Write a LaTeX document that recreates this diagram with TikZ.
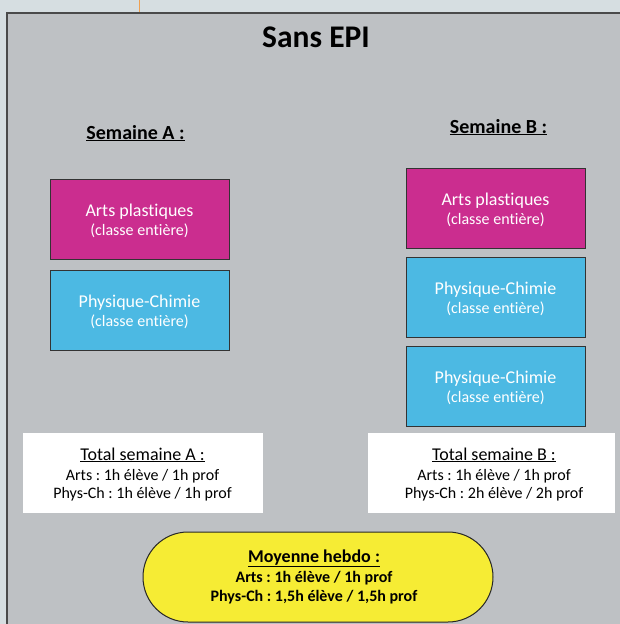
\documentclass[tikz,border=0pt]{standalone}
\usepackage{fontspec}
\setmainfont{Carlito}[Ligatures=CommonOff]
\frenchspacing
\definecolor{outerbg}{HTML}{D6DEE1}
\definecolor{panelbg}{HTML}{BEC1C4}
\definecolor{panelborder}{HTML}{4A4A4A}
\definecolor{magentabox}{HTML}{CB2D8F}
\definecolor{cyanbox}{HTML}{4CB9E3}
\definecolor{yellowbox}{HTML}{F6EC34}
\definecolor{orangeline}{HTML}{F0A050}
\tikzset{
  course/.style={draw=black!80, line width=0.8pt, minimum width=179pt, minimum height=80pt, inner sep=0pt},
  arts/.style={course, fill=magentabox},
  phys/.style={course, fill=cyanbox},
  bigline/.style={anchor=base, inner sep=0pt, text=white, font=\fontsize{18}{21}\selectfont},
  smallline/.style={anchor=base, inner sep=0pt, text=white, font=\fontsize{16}{19}\selectfont},
  total/.style={fill=white, minimum height=80pt, inner sep=0pt},
  ttitle/.style={anchor=base, inner sep=0pt, font=\fontsize{18}{21}\selectfont},
  tline/.style={anchor=base, inner sep=0pt, font=\fontsize{16}{19}\selectfont},
  heading/.style={anchor=base, inner sep=0pt, font=\bfseries\fontsize{20}{24}\selectfont},
  avg/.style={draw=black!85, line width=1pt, fill=yellowbox, minimum width=350pt, minimum height=90pt,
    rounded corners=45pt, inner sep=0pt},
  atitle/.style={anchor=base, inner sep=0pt, font=\bfseries\fontsize{18}{21}\selectfont},
  aline/.style={anchor=base, inner sep=0pt, font=\bfseries\fontsize{16}{19}\selectfont}
}
\begin{document}
\begin{tikzpicture}[x=1pt,y=-1pt]
\fill[outerbg] (0,0) rectangle (620,624);
\useasboundingbox (0,0) rectangle (620,624);
\draw[orangeline, line width=0.8pt] (139,0) -- (139,13);
\fill[panelbg] (7,13) rectangle (620,624);
\draw[panelborder, line width=1.5pt] (7,624) -- (7,13) -- (620,13);

\node[anchor=base, inner sep=0pt, font=\bfseries\fontsize{31.5}{34}\selectfont] (title) at (316,47) {Sans EPI};

\node[heading] (semA) at (135.5,139) {\underline{Semaine A :}};
\node[heading] (semB) at (498.5,133) {\underline{Semaine B :}};

% Semaine A
\node[arts] (a1) at (139.5,219) {};
\node[bigline] (a1t) at (139.5,216.5) {Arts plastiques};
\node[smallline] (a1s) at (139.5,235) {(classe entière)};
\node[phys] (a2) at (139.5,310) {};
\node[bigline] (a2t) at (139.5,307.5) {Physique-Chimie};
\node[smallline] (a2s) at (139.5,326) {(classe entière)};

% Semaine B
\node[arts] (b1) at (495.5,208) {};
\node[bigline] (b1t) at (495.5,205.5) {Arts plastiques};
\node[smallline] (b1s) at (495.5,224) {(classe entière)};
\node[phys] (b2) at (495.5,297) {};
\node[bigline] (b2t) at (495.5,294.5) {Physique-Chimie};
\node[smallline] (b2s) at (495.5,313) {(classe entière)};
\node[phys] (b3) at (495.5,386) {};
\node[bigline] (b3t) at (495.5,383.5) {Physique-Chimie};
\node[smallline] (b3s) at (495.5,402) {(classe entière)};

% Totals
\node[total, minimum width=240pt] (ta) at (143,473) {};
\node[ttitle] (tat) at (142.5,460) {\underline{Total semaine A :}};
\node[tline] (ta1) at (142.5,480) {Arts : 1h élève / 1h prof};
\node[tline] (ta2) at (142.5,498.5) {Phys-Ch : 1h élève / 1h prof};

\node[total, minimum width=247pt] (tb) at (491.5,473) {};
\node[ttitle] (tbt) at (494,460) {\underline{Total semaine B :}};
\node[tline] (tb1) at (494,480) {Arts : 1h élève / 1h prof};
\node[tline] (tb2) at (494,498.5) {Phys-Ch : 2h élève / 2h prof};

% Weekly average
\node[avg] (moy) at (318,577) {};
\node[atitle] (moyt) at (314,562) {\underline{Moyenne hebdo :}};
\node[aline] (moy1) at (314,582) {Arts : 1h élève / 1h prof};
\node[aline] (moy2) at (314,601) {Phys-Ch : 1,5h élève / 1,5h prof};
\end{tikzpicture}
\end{document}
